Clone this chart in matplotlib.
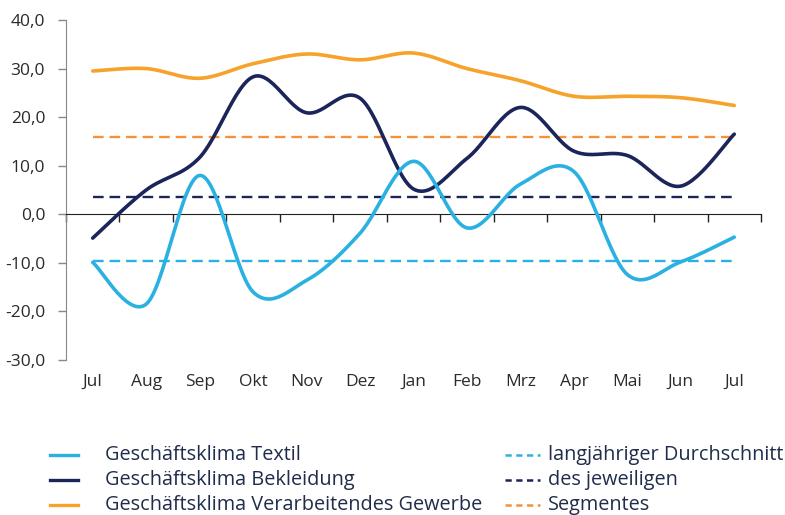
import numpy as np
import matplotlib
matplotlib.use("Agg")
import matplotlib.pyplot as plt
from matplotlib.lines import Line2D
from matplotlib.ticker import FuncFormatter

plt.rcParams['font.family'] = ['Open Sans', 'DejaVu Sans']

months = ["Jul", "Aug", "Sep", "Okt", "Nov", "Dez", "Jan", "Feb", "Mrz", "Apr", "Mai", "Jun", "Jul"]
textil = [-9.9, -18.5, 8.0, -16.0, -13.6, -3.9, 10.9, -2.8, 6.2, 8.8, -12.4, -9.8, -4.7]
bekleidung = [-4.9, 5.0, 11.7, 28.3, 20.9, 23.9, 5.2, 11.5, 22.0, 13.0, 12.1, 5.8, 16.5]
gewerbe = [29.5, 30.0, 28.0, 31.0, 33.0, 31.8, 33.2, 30.0, 27.5, 24.3, 24.3, 24.0, 22.4]
avg_textil = -9.7
avg_bekleidung = 3.5
avg_gewerbe = 16.0

labels_left = ["Geschäftsklima Textil", "Geschäftsklima Bekleidung",
               "Geschäftsklima Verarbeitendes Gewerbe"]
labels_right = ["langjähriger Durchschnitt", "des jeweiligen", "Segmentes"]

c_textil = "#2AB1E1"
c_bekl = "#1C255A"
c_gew = "#F6A22B"
c_gew_d = "#F79139"
c_text = "#1F2D4A"
c_tick = "#2A2A2A"


def smooth(y, n=30):
    """Excel-style (Catmull-Rom / Bezier) smoothing through the points."""
    y = np.asarray(y, float)
    x = np.arange(len(y), dtype=float)
    P = np.column_stack([x, y])
    Pe = np.vstack([P[0], P, P[-1]])
    out = []
    t = np.linspace(0, 1, n)[:, None]
    for i in range(len(P) - 1):
        p0, p1, p2, p3 = Pe[i], Pe[i + 1], Pe[i + 2], Pe[i + 3]
        c1 = p1 + (p2 - p0) / 6
        c2 = p2 - (p3 - p1) / 6
        seg = ((1 - t) ** 3) * p1 + 3 * ((1 - t) ** 2) * t * c1 + 3 * (1 - t) * t ** 2 * c2 + t ** 3 * p2
        out.append(seg if i == 0 else seg[1:])
    out = np.vstack(out)
    return out[:, 0], out[:, 1]


fig = plt.figure(figsize=(7.85, 5.15), dpi=100)
ax = fig.add_axes([66 / 785, 1 - 360 / 515, (761 - 66) / 785, 340 / 515])

x = np.arange(len(months))
for vals, col in [(gewerbe, c_gew), (bekleidung, c_bekl), (textil, c_textil)]:
    sx, sy = smooth(vals)
    ax.plot(sx, sy, color=col, lw=2.6, solid_capstyle='round', zorder=3)

for val, col in [(avg_gewerbe, c_gew_d), (avg_bekleidung, c_bekl), (avg_textil, c_textil)]:
    ax.plot([x[0], x[-1]], [val, val], color=col, lw=1.7, dashes=(4.5, 2.5), zorder=2)

ax.set_xlim(-0.5, len(months) - 0.5)
ax.set_ylim(-30, 40)
ax.set_yticks(np.arange(-30, 41, 10))
ax.yaxis.set_major_formatter(FuncFormatter(lambda v, p: f"{v:.1f}".replace(".", ",")))
ax.tick_params(axis='y', length=6, width=1, color="#888888", labelsize=12.5, labelcolor=c_tick, pad=9)

ax.spines['top'].set_visible(False)
ax.spines['right'].set_visible(False)
ax.spines['left'].set_color("#888888")
ax.spines['bottom'].set_position(('data', 0))
ax.spines['bottom'].set_color("#222222")
ax.set_xticks(np.arange(-0.5, len(months), 1.0))
ax.tick_params(axis='x', length=6, width=1, color="#222222", labelbottom=False)

sec = ax.secondary_xaxis(0)
sec.set_xticks(x)
sec.set_xticklabels(months)
sec.tick_params(length=0, labelsize=12.5, labelcolor=c_tick, pad=10)
sec.spines['bottom'].set_visible(False)

# Legend (manual layout, two columns)
rows_y = [455, 480, 505]
for yy, lab, col in zip(rows_y, labels_left, [c_textil, c_bekl, c_gew]):
    fy = 1 - yy / 515
    fig.add_artist(Line2D([50 / 785, 78 / 785], [fy, fy], color=col, lw=2.4, transform=fig.transFigure))
    fig.text(105 / 785, fy, lab, fontsize=14.3, color=c_text, va='center', ha='left')
for yy, lab, col in zip(rows_y, labels_right, [c_textil, c_bekl, c_gew_d]):
    fy = 1 - yy / 515
    fig.add_artist(Line2D([505 / 785, 540 / 785], [fy, fy], color=col, lw=1.8, dashes=(2.5, 1.8),
                          transform=fig.transFigure))
    fig.text(548 / 785, fy, lab, fontsize=14.3, color=c_text, va='center', ha='left')

fig.savefig("out.png", dpi=100)
